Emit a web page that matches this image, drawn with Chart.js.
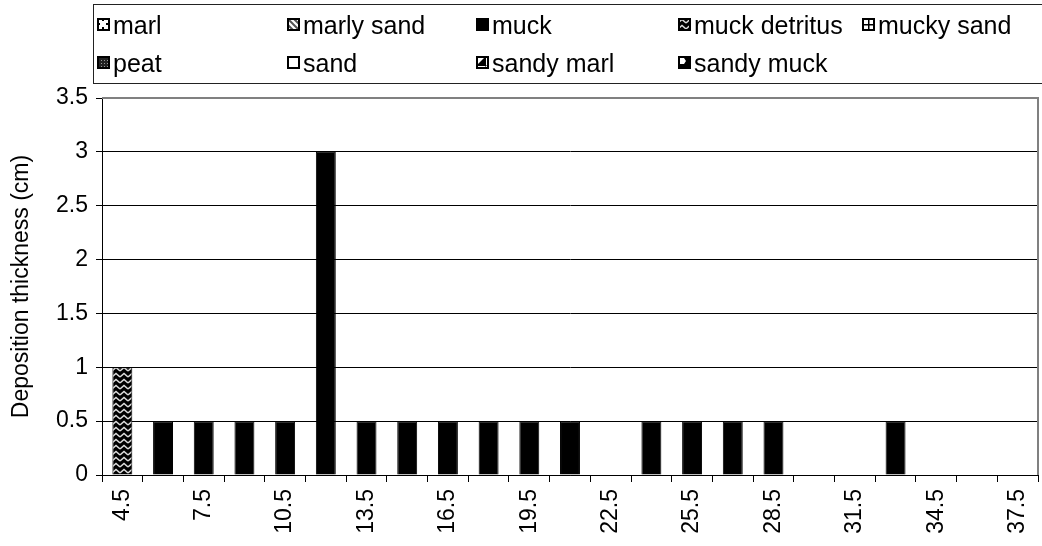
<!DOCTYPE html>
<html>
<head>
<meta charset="utf-8">
<script src="https://cdn.jsdelivr.net/npm/chart.js@4.4.0/dist/chart.umd.min.js"></script>
<style>
  body { margin: 0; background: #fff; font-family: "Liberation Sans", Arial, sans-serif; }
  #wrap { position: relative; width: 1042px; height: 546px; }
  #legend { position: absolute; left: 93px; top: 4px; width: 960px; height: 80px;
            border: 1.5px solid #222; box-sizing: border-box; }
  .item { position: absolute; font-size: 25px; line-height: 26px; color: #000; white-space: nowrap; }
  .item canvas { position: absolute; left: 0; top: 6px; }
  .item span { position: absolute; left: 16px; top: 0; }
</style>
</head>
<body>
<div id="wrap">
  <canvas id="myChart" width="1042" height="546"></canvas>
  <div id="legend"></div>
</div>
<script>
// 데이터
const categories = ['4.5', '6', '7.5', '9', '10.5', '12', '13.5', '15', '16.5', '18', '19.5', '21',
                    '22.5', '24', '25.5', '27', '28.5', '30', '31.5', '33', '34.5', '36', '37.5'];
const seriesNames = ['marl', 'marly sand', 'muck', 'muck detritus', 'mucky sand',
                     'peat', 'sand', 'sandy marl', 'sandy muck'];
const muck = [null, 0.5, 0.5, 0.5, 0.5, 3, 0.5, 0.5, 0.5, 0.5, 0.5, 0.5,
              null, 0.5, 0.5, 0.5, 0.5, null, null, 0.5, null, null, null];
const muckDetritus = [1];
const emptySeries = [];
const yTicks = [0, 0.5, 1, 1.5, 2, 2.5, 3, 3.5];

const ctx = document.getElementById('myChart').getContext('2d');

// 패턴 만들기
function tile(w, h, bg, draw) {
    const c = document.createElement('canvas');
    c.width = w; c.height = h;
    const g = c.getContext('2d');
    g.fillStyle = bg; g.fillRect(0, 0, w, h);
    if (draw) draw(g);
    return c;
}
const tiles = {
    'marl': tile(8, 8, '#fff', g => { g.fillStyle = '#000'; g.fillRect(5, 1, 2, 2); g.fillRect(1, 5, 2, 2); }),
    'marly sand': tile(6, 6, '#fff', g => { g.strokeStyle = '#555'; g.lineWidth = 2;
        g.beginPath(); g.moveTo(-1, -1); g.lineTo(7, 7); g.moveTo(-1, 5); g.lineTo(1, 7); g.moveTo(5, -1); g.lineTo(7, 1); g.stroke(); }),
    'muck': tile(4, 4, '#000'),
    'muck detritus': tile(8, 6, '#000', g => { g.strokeStyle = '#ddd'; g.lineWidth = 1.5;
        g.beginPath(); g.moveTo(0, 5); g.lineTo(4, 1.5); g.lineTo(8, 5); g.stroke(); }),
    'mucky sand': tile(6, 6, '#fff', g => { g.fillStyle = '#000'; g.fillRect(0, 0, 6, 1.5); g.fillRect(0, 0, 1.5, 6); }),
    'peat': tile(3, 3, '#222', g => { g.fillStyle = '#999'; g.fillRect(1, 1, 1, 1); }),
    'sand': tile(4, 4, '#fff'),
    'sandy marl': tile(10, 10, '#fff', g => { g.fillStyle = '#000'; g.beginPath(); g.moveTo(0, 10); g.lineTo(10, 0); g.lineTo(10, 10); g.fill(); }),
    'sandy muck': tile(10, 10, '#000', g => { g.fillStyle = '#fff'; g.beginPath();
        g.moveTo(2, 2); g.lineTo(6, 2); g.lineTo(8, 5); g.lineTo(6, 8); g.lineTo(2, 8); g.fill(); })
};
const fills = {};
for (const name of seriesNames) fills[name] = ctx.createPattern(tiles[name], 'repeat');

const seriesData = {
    'muck': muck,
    'muck detritus': muckDetritus
};

const datasets = seriesNames.map(name => ({
    label: name,
    data: seriesData[name] || emptySeries,
    backgroundColor: fills[name],
    borderColor: '#000',
    borderWidth: 1,
    barPercentage: 0.49,
    categoryPercentage: 1.0
}));

// 범례 (HTML)
const legendX = [3, 193, 382, 584, 768];
const legendY = [7, 45];
const legendEl = document.getElementById('legend');
seriesNames.forEach((name, i) => {
    const d = document.createElement('div');
    d.className = 'item';
    d.style.left = legendX[i % 5] + 'px';
    d.style.top = legendY[Math.floor(i / 5)] + 'px';
    const ic = document.createElement('canvas');
    ic.width = 13; ic.height = 13;
    const g = ic.getContext('2d');
    g.fillStyle = g.createPattern(tiles[name], 'repeat');
    g.fillRect(0, 0, 13, 13);
    g.strokeStyle = '#000'; g.lineWidth = 2;
    g.strokeRect(1, 1, 11, 11);
    const sp = document.createElement('span');
    sp.textContent = name;
    d.appendChild(ic); d.appendChild(sp);
    legendEl.appendChild(d);
});

// 플롯 영역 테두리 (위, 오른쪽)
const plotBorder = {
    id: 'plotBorder',
    afterDraw(chart) {
        const a = chart.chartArea, c = chart.ctx;
        c.save();
        c.strokeStyle = '#808080'; c.lineWidth = 2;
        c.beginPath();
        c.moveTo(a.left, a.top); c.lineTo(a.right, a.top); c.lineTo(a.right, a.bottom);
        c.stroke();
        c.restore();
    }
};

const font = { family: '"Liberation Sans", Arial, sans-serif', size: 23 };

new Chart(ctx, {
    type: 'bar',
    data: { labels: categories, datasets: datasets },
    options: {
        responsive: false,
        animation: false,
        layout: { padding: { top: 98, right: 4, left: 0, bottom: 0 } },
        plugins: { legend: { display: false }, tooltip: { enabled: false } },
        scales: {
            x: {
                stacked: true,
                grid: { drawOnChartArea: false, drawTicks: true, tickLength: 7, color: '#000', offset: true },
                border: { color: '#000', width: 1 },
                ticks: {
                    autoSkip: false, maxRotation: 90, minRotation: 90, color: '#000', font: font, padding: 7,
                    callback: (v, i) => (i % 2 === 0 ? categories[i] : '')
                },
                afterFit: s => { s.height = 71; s.paddingLeft = 0; s.paddingRight = 0; }
            },
            y: {
                stacked: true,
                min: 0, max: 3.5,
                afterBuildTicks: s => { s.ticks = yTicks.map(v => ({ value: v })); },
                grid: { color: '#000', tickLength: 6 },
                border: { color: '#000', width: 1 },
                ticks: { color: '#000', font: font, padding: 8, callback: v => String(v) },
                title: { display: true, text: 'Deposition thickness (cm)', color: '#000', font: font,
                         padding: { top: 8, bottom: 0 } },
                afterFit: s => { s.width = 102; s.paddingTop = 0; s.paddingBottom = 0; }
            }
        }
    },
    plugins: [plotBorder]
});
</script>
</body>
</html>
